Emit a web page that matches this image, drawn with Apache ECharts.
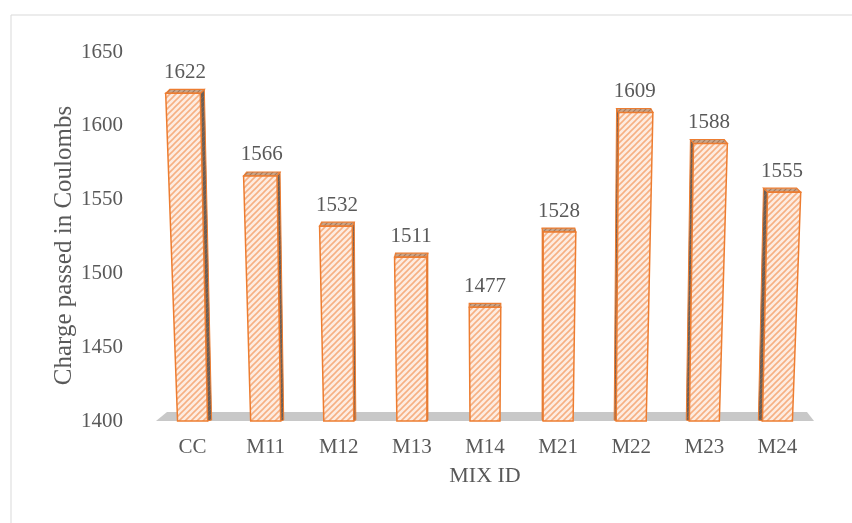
<!DOCTYPE html>
<html>
<head>
<meta charset="utf-8">
<script src="https://cdn.jsdelivr.net/npm/echarts@6/dist/echarts.min.js"></script>
<style>
  html, body { margin: 0; padding: 0; background: #ffffff; }
  #chart { width: 852px; height: 523px; }
</style>
</head>
<body>
<div id="chart"></div>
<script>
// Rapid chloride permeability: total charge passed per mix
const mixIds = ['CC', 'M11', 'M12', 'M13', 'M14', 'M21', 'M22', 'M23', 'M24'];
const chargeCoulombs = [1622, 1566, 1532, 1511, 1477, 1528, 1609, 1588, 1555];
const yTicks = { min: 1400, max: 1650, step: 50 };

const FONT = '"Liberation Serif", "Times New Roman", serif';
const TEXT = '#595959';

// Diagonal hatch tile for bar faces
function hatchTile(bg, line, size, lw) {
  const c = document.createElement('canvas');
  c.width = size; c.height = size;
  const g = c.getContext('2d');
  g.fillStyle = bg; g.fillRect(0, 0, size, size);
  g.strokeStyle = line; g.lineWidth = lw;
  g.beginPath();
  g.moveTo(-1, size + 1); g.lineTo(size + 1, -1);
  g.moveTo(-1, 1); g.lineTo(1, -1);
  g.moveTo(size - 1, size + 1); g.lineTo(size + 1, size - 1);
  g.stroke();
  return c;
}
const frontFill = { image: hatchTile('#fdece1', '#f6b083', 6, 1.6), repeat: 'repeat' };
const topFill = { image: hatchTile('#c9a58a', '#a8795a', 5, 1.2), repeat: 'repeat' };
const sideFill = { image: hatchTile('#6a5f58', '#8a6a55', 5, 1.0), repeat: 'repeat' };

const EDGE = '#ed7d31';

function renderBar(params, api) {
  const idx = api.value(0);
  const val = api.value(1);
  const base = api.coord([idx, yTicks.min]);
  const top = api.coord([idx, val]);
  const band = api.size([1, 0])[0];
  const cs = params.coordSys;
  const mid = cs.x + cs.width * 0.5;
  const w = band * 0.41;
  const cx = base[0];
  const yb = base[1];
  const yt = top[1];
  const h = yb - yt;
  const lean = (cx - mid) * 0.0001 * h;
  const tw = w + h * 0.014;
  const bl = [cx - w / 2, yb], br = [cx + w / 2, yb];
  const tl = [cx + lean - tw / 2, yt], tr = [cx + lean + tw / 2, yt];
  const d = -(cx - mid) * 0.014;      // side depth, towards the middle
  const up = 4;                        // visible depth of the top face
  const children = [];
  // side face
  if (Math.abs(d) > 0.6) {
    const pts = d > 0
      ? [br, [br[0] + d, yb - 1], [tr[0] + d, yt - up], tr]
      : [bl, [bl[0] + d, yb - 1], [tl[0] + d, yt - up], tl];
    children.push({
      type: 'polygon', shape: { points: pts },
      style: { fill: sideFill, stroke: EDGE, lineWidth: 1 }
    });
  }
  // top face
  children.push({
    type: 'polygon',
    shape: { points: [tl, tr, [tr[0] + d, yt - up], [tl[0] + d, yt - up]] },
    style: { fill: topFill, stroke: EDGE, lineWidth: 1.2 }
  });
  // front face
  children.push({
    type: 'polygon', shape: { points: [bl, br, tr, tl] },
    style: { fill: frontFill, stroke: EDGE, lineWidth: 1.5 }
  });
  // value label
  children.push({
    type: 'text',
    x: cx + lean + d / 2, y: yt - 21,
    style: {
      text: String(val), fill: TEXT, font: '21px ' + FONT,
      align: 'center', verticalAlign: 'middle'
    }
  });
  return { type: 'group', children: children };
}

function renderFloor(params, api) {
  const cs = params.coordSys;
  const yb = cs.y + cs.height;
  const x0 = cs.x, x1 = cs.x + cs.width;
  return {
    type: 'polygon',
    z2: -1,
    shape: { points: [[x0, yb], [x1, yb], [x1 - 7, yb - 9], [x0 + 11, yb - 9]] },
    style: { fill: '#c8c8c8' }
  };
}

const chart = echarts.init(document.getElementById('chart'), null, { renderer: 'canvas' });
chart.setOption({
  backgroundColor: '#ffffff',
  animation: false,
  graphic: [{
    type: 'rect', left: 8.5, top: 12.5, silent: true,
    shape: { width: 900, height: 600 },
    style: { fill: 'none', stroke: '#d9d9d9', lineWidth: 1 }
  }],
  grid: { left: 156, right: 38, top: 52, bottom: 102 },
  xAxis: {
    type: 'category',
    data: mixIds,
    name: 'MIX ID',
    nameLocation: 'middle',
    nameGap: 44,
    nameMoveOverlap: false,
    nameTextStyle: { color: TEXT, fontFamily: FONT, fontSize: 22 },
    axisLine: { show: false },
    axisTick: { show: false },
    axisLabel: { color: TEXT, fontFamily: FONT, fontSize: 21, margin: 16 }
  },
  yAxis: {
    type: 'value',
    min: yTicks.min, max: yTicks.max, interval: yTicks.step,
    name: 'Charge passed in Coulombs',
    nameLocation: 'middle',
    nameGap: 79,
    nameMoveOverlap: false,
    nameTextStyle: { color: TEXT, fontFamily: FONT, fontSize: 25, padding: [0, 18, 0, 0] },
    axisLine: { show: false },
    axisTick: { show: false },
    splitLine: { show: false },
    axisLabel: {
      color: TEXT, fontFamily: FONT, fontSize: 21, margin: 33,
      formatter: (v) => String(v)
    }
  },
  series: [
    {
      type: 'custom',
      name: 'floor',
      renderItem: renderFloor,
      data: [[0, yTicks.min]],
      silent: true,
      z: 1
    },
    {
      type: 'custom',
      name: 'Charge passed',
      renderItem: renderBar,
      data: chargeCoulombs.map((v, i) => [i, v]),
      encode: { x: 0, y: 1 },
      z: 2
    }
  ]
});
</script>
</body>
</html>
